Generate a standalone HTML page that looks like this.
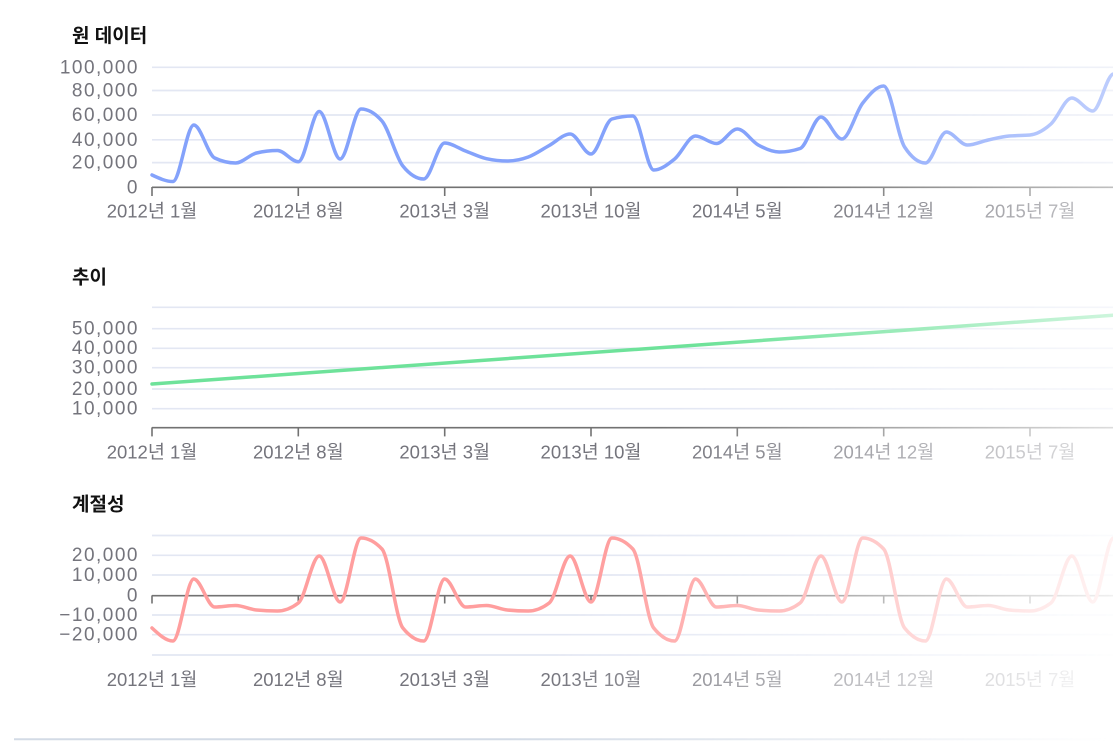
<!DOCTYPE html>
<html>
<head>
<meta charset="utf-8">
<style>
  html,body{margin:0;padding:0;background:#fff;}
  body{width:1113px;height:741px;overflow:hidden;}
  #wrap{
    position:absolute;left:0;top:0;width:1113px;height:741px;
    -webkit-mask-image:linear-gradient(116.6deg,#000 0%,#000 59%,rgba(0,0,0,0) 99.5%);
    mask-image:linear-gradient(116.6deg,#000 0%,#000 59%,rgba(0,0,0,0) 99.5%);
  }
  svg{display:block;}
  .t{font-family:"Liberation Sans","Noto Sans CJK KR",sans-serif;font-size:19px;font-weight:700;fill:#111;}
  .yl{font-family:"Liberation Sans","Noto Sans CJK KR",sans-serif;font-size:19px;fill:#74747c;letter-spacing:1.5px;}
  .xl{font-family:"Liberation Sans","Noto Sans CJK KR",sans-serif;font-size:18.5px;fill:#74747c;}
  .g{stroke:#e3e7f3;stroke-width:1.7;}
  .ax{stroke:#727272;stroke-width:1.6;}
</style>
</head>
<body>
<div id="wrap">
<svg width="1113" height="741" viewBox="0 0 1113 741" xmlns="http://www.w3.org/2000/svg">
  <!-- ========== TOP: 원 데이터 ========== -->
  <text class="t" x="72" y="42">원 데이터</text>
  <g>
    <line class="g" x1="152" x2="1113" y1="67.3" y2="67.3"/>
    <line class="g" x1="152" x2="1113" y1="90.5" y2="90.5"/>
    <line class="g" x1="152" x2="1113" y1="115" y2="115"/>
    <line class="g" x1="152" x2="1113" y1="139.8" y2="139.8"/>
    <line class="g" x1="152" x2="1113" y1="162.6" y2="162.6"/>
  </g>
  <g text-anchor="end">
    <text class="yl" x="139" y="73.5">100,000</text>
    <text class="yl" x="139" y="96.5">80,000</text>
    <text class="yl" x="139" y="121">60,000</text>
    <text class="yl" x="139" y="145.8">40,000</text>
    <text class="yl" x="139" y="168.6">20,000</text>
    <text class="yl" x="139" y="193.3">0</text>
  </g>
  <g>
    <line class="ax" x1="152" x2="1113" y1="187.3" y2="187.3"/>
    <line class="ax" x1="152" x2="152" y1="187" y2="196"/>
    <line class="ax" x1="298.3" x2="298.3" y1="187" y2="196"/>
    <line class="ax" x1="444.7" x2="444.7" y1="187" y2="196"/>
    <line class="ax" x1="591" x2="591" y1="187" y2="196"/>
    <line class="ax" x1="737.3" x2="737.3" y1="187" y2="196"/>
    <line class="ax" x1="883.7" x2="883.7" y1="187" y2="196"/>
    <line class="ax" x1="1030" x2="1030" y1="187" y2="196"/>
  </g>
  <g text-anchor="middle">
    <text class="xl" x="152" y="217.5">2012년 1월</text>
    <text class="xl" x="298.3" y="217.5">2012년 8월</text>
    <text class="xl" x="444.7" y="217.5">2013년 3월</text>
    <text class="xl" x="591" y="217.5">2013년 10월</text>
    <text class="xl" x="737.3" y="217.5">2014년 5월</text>
    <text class="xl" x="883.7" y="217.5">2014년 12월</text>
    <text class="xl" x="1030" y="217.5">2015년 7월</text>
  </g>
  <path id="p1" d="" fill="none" stroke="#84a2fb" stroke-width="3.5" stroke-linecap="round" stroke-linejoin="round"/>

  <!-- ========== MIDDLE: 추이 ========== -->
  <text class="t" x="72" y="283.5">추이</text>
  <g>
    <line class="g" x1="152" x2="1113" y1="307.3" y2="307.3"/>
    <line class="g" x1="152" x2="1113" y1="328.7" y2="328.7"/>
    <line class="g" x1="152" x2="1113" y1="348.3" y2="348.3"/>
    <line class="g" x1="152" x2="1113" y1="367.7" y2="367.7"/>
    <line class="g" x1="152" x2="1113" y1="389" y2="389"/>
    <line class="g" x1="152" x2="1113" y1="408.7" y2="408.7"/>
  </g>
  <g text-anchor="end">
    <text class="yl" x="139" y="334.5">50,000</text>
    <text class="yl" x="139" y="354.2">40,000</text>
    <text class="yl" x="139" y="373.6">30,000</text>
    <text class="yl" x="139" y="394.9">20,000</text>
    <text class="yl" x="139" y="414.6">10,000</text>
  </g>
  <g>
    <line class="ax" x1="152" x2="1113" y1="427.7" y2="427.7"/>
    <line class="ax" x1="152" x2="152" y1="427.4" y2="436.4"/>
    <line class="ax" x1="298.3" x2="298.3" y1="427.4" y2="436.4"/>
    <line class="ax" x1="444.7" x2="444.7" y1="427.4" y2="436.4"/>
    <line class="ax" x1="591" x2="591" y1="427.4" y2="436.4"/>
    <line class="ax" x1="737.3" x2="737.3" y1="427.4" y2="436.4"/>
    <line class="ax" x1="883.7" x2="883.7" y1="427.4" y2="436.4"/>
    <line class="ax" x1="1030" x2="1030" y1="427.4" y2="436.4"/>
  </g>
  <g text-anchor="middle">
    <text class="xl" x="152" y="458.5">2012년 1월</text>
    <text class="xl" x="298.3" y="458.5">2012년 8월</text>
    <text class="xl" x="444.7" y="458.5">2013년 3월</text>
    <text class="xl" x="591" y="458.5">2013년 10월</text>
    <text class="xl" x="737.3" y="458.5">2014년 5월</text>
    <text class="xl" x="883.7" y="458.5">2014년 12월</text>
    <text class="xl" x="1030" y="458.5">2015년 7월</text>
  </g>
  <path id="p2" d="M152,384 L1113,315.3" fill="none" stroke="#6ee29a" stroke-width="3.5" stroke-linecap="round"/>

  <!-- ========== BOTTOM: 계절성 ========== -->
  <text class="t" x="72" y="510.5">계절성</text>
  <g>
    <line class="g" x1="152" x2="1113" y1="535.5" y2="535.5"/>
    <line class="g" x1="152" x2="1113" y1="555.3" y2="555.3"/>
    <line class="g" x1="152" x2="1113" y1="575" y2="575"/>
    <line class="g" x1="152" x2="1113" y1="615" y2="615"/>
    <line class="g" x1="152" x2="1113" y1="634.7" y2="634.7"/>
    <line class="g" x1="152" x2="1113" y1="655" y2="655"/>
  </g>
  <g text-anchor="end">
    <text class="yl" x="139" y="561.2">20,000</text>
    <text class="yl" x="139" y="581">10,000</text>
    <text class="yl" x="139" y="601.6">0</text>
    <text class="yl" x="139" y="621">−10,000</text>
    <text class="yl" x="139" y="640.7">−20,000</text>
  </g>
  <g>
    <line class="ax" x1="152" x2="1113" y1="595.7" y2="595.7"/>
    <line class="ax" x1="152" x2="152" y1="595.4" y2="603.5"/>
    <line class="ax" x1="298.3" x2="298.3" y1="595.4" y2="603.5"/>
    <line class="ax" x1="444.7" x2="444.7" y1="595.4" y2="603.5"/>
    <line class="ax" x1="591" x2="591" y1="595.4" y2="603.5"/>
    <line class="ax" x1="737.3" x2="737.3" y1="595.4" y2="603.5"/>
    <line class="ax" x1="883.7" x2="883.7" y1="595.4" y2="603.5"/>
    <line class="ax" x1="1030" x2="1030" y1="595.4" y2="603.5"/>
  </g>
  <g text-anchor="middle">
    <text class="xl" x="152" y="686">2012년 1월</text>
    <text class="xl" x="298.3" y="686">2012년 8월</text>
    <text class="xl" x="444.7" y="686">2013년 3월</text>
    <text class="xl" x="591" y="686">2013년 10월</text>
    <text class="xl" x="737.3" y="686">2014년 5월</text>
    <text class="xl" x="883.7" y="686">2014년 12월</text>
    <text class="xl" x="1030" y="686">2015년 7월</text>
  </g>
  <path id="p3" d="" fill="none" stroke="#ff9e9e" stroke-width="3.5" stroke-linecap="round" stroke-linejoin="round"/>

  <!-- bottom separator -->
  <line x1="14" x2="1113" y1="739.2" y2="739.2" stroke="#d3dbe6" stroke-width="2"/>
</svg>
</div>
<script>
(function(){
  var X0 = 152, DX = 20.905;
  function monotone(ys){
    var n = ys.length, xs = [], s = [], m = [], i;
    for(i=0;i<n;i++) xs.push(X0 + DX*i);
    for(i=0;i<n-1;i++) s.push((ys[i+1]-ys[i])/(xs[i+1]-xs[i]));
    for(i=1;i<n-1;i++){
      var h0 = xs[i]-xs[i-1], h1 = xs[i+1]-xs[i];
      var p = (s[i-1]*h1 + s[i]*h0)/(h0+h1);
      m[i] = (Math.sign(s[i-1])+Math.sign(s[i])) * Math.min(Math.abs(s[i-1]), Math.abs(s[i]), 0.5*Math.abs(p)) || 0;
    }
    m[0] = (3*s[0]-m[1])/2;
    m[n-1] = (3*s[n-2]-m[n-2])/2;
    var d = "M" + xs[0].toFixed(2) + "," + ys[0].toFixed(2);
    for(i=0;i<n-1;i++){
      var dx = (xs[i+1]-xs[i])/3;
      d += " C" + (xs[i]+dx).toFixed(2) + "," + (ys[i]+dx*m[i]).toFixed(2) + " " +
           (xs[i+1]-dx).toFixed(2) + "," + (ys[i+1]-dx*m[i+1]).toFixed(2) + " " +
           xs[i+1].toFixed(2) + "," + ys[i+1].toFixed(2);
    }
    return d;
  }
  var top = [175,181.5,125,158,163,153,150.5,161.7,111.5,159,109,121,
             166,179,143,151,158.7,161,157,145.5,134,154,119,116,
             170,159,136,143.5,129,145,152,148.5,117,139,103,86,
             147,163,132,145,140,136,135,124,98,111,74,78];
  document.getElementById("p1").setAttribute("d", monotone(top));

  var seas = [628,641,579,607,605.5,610,611,603,556,602,538,549];
  var sy = [];
  for(var i=0;i<48;i++) sy.push(seas[i%12]);
  document.getElementById("p3").setAttribute("d", monotone(sy));
})();
</script>
</body>
</html>
